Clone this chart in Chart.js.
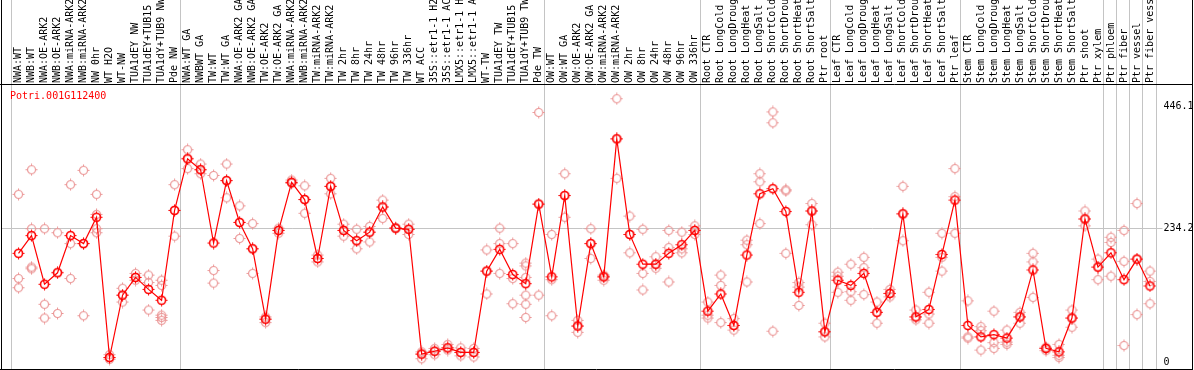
<!DOCTYPE html>
<html><head><meta charset="utf-8">
<script src="https://cdn.jsdelivr.net/npm/chart.js@4/dist/chart.umd.min.js"></script>
<style>html,body{margin:0;padding:0;background:#fff;}canvas{display:block;}</style>
</head><body>
<canvas id="c" width="1194" height="370"></canvas>
<script>
const chartTitle = 'Potri.001G112400';

const categories = [
  'NWA:WT','NWB:WT','NWA:OE-ARK2','NWB:OE-ARK2','NWA:miRNA-ARK2','NWB:miRNA-ARK2','NW 0hr','WT H2O','WT-NW','TUA1dEY NW','TUA1dEY+TUB15 NW','TUA1dY+TUB9 NW','Pde NW',
  'NWA:WT GA','NWBWT GA','TW:WT','TW:WT GA','NWA:OE-ARK2 GA','NWB:OE-ARK2 GA','TW:OE-ARK2','TW:OE-ARK2 GA','NWA:miRNA-ARK2 GA','NWB:miRNA-ARK2 GA','TW:miRNA-ARK2','TW:miRNA-ARK2 GA','TW 2hr','TW 8hr','TW 24hr','TW 48hr','TW 96hr','TW 336hr','WT ACC','35S::etr1-1 H2O','35S::etr1-1 ACC','LMX5::etr1-1 H2O','LMX5::etr1-1 ACC','WT-TW','TUA1dEY TW','TUA1dEY+TUB15 TW','TUA1dY+TUB9 TW','Pde TW',
  'OW:WT','OW:WT GA','OW:OE-ARK2','OW:OE-ARK2 GA','OW:miRNA-ARK2','OW:miRNA-ARK2 GA','OW 2hr','OW 8hr','OW 24hr','OW 48hr','OW 96hr','OW 336hr',
  'Root CTR','Root LongCold','Root LongDrought','Root LongHeat','Root LongSalt','Root ShortCold','Root ShortDrought','Root ShortHeat','Root ShortSalt','Ptr root',
  'Leaf CTR','Leaf LongCold','Leaf LongDrought','Leaf LongHeat','Leaf LongSalt','Leaf ShortCold','Leaf ShortDrought','Leaf ShortHeat','Leaf ShortSalt','Ptr leaf',
  'Stem CTR','Stem LongCold','Stem LongDrought','Stem LongHeat','Stem LongSalt','Stem ShortCold','Stem ShortDrought','Stem ShortHeat','Stem ShortSalt','Ptr shoot','Ptr xylem',
  'Ptr phloem','Ptr fiber','Ptr vessel','Ptr fiber vessel'
];

const groupSizes = [13, 28, 12, 10, 10, 11, 1, 1, 1, 1];

const meanValues = [
  190,221,136,156,221,207,253,8,117,148,127,108,265,
  355,336,208,317,244,198,75,230,314,284,181,307,230,212,227,271,234,232,14,19,25,17,17,159,197,153,137,276,
  149,291,63,207,149,390,223,171,171,190,205,230,
  89,119,64,187,294,303,263,122,264,53,
  143,134,155,87,120,259,79,92,188,283,
  64,44,48,42,79,161,24,18,77,250,166,
  191,144,180,133
];

const replicateValues = [
  [293,146,130],[336,233,166,163],[233,101,77],[226,85,157],[310,207,146],[335,207,81],[293,258,233,226],[13,8,5],[129,105,117],[155,143,148],[152,139,91],[143,134,82,78,73],[310,220,265],
  [371,338,356],[346,329,336],[326,160,138],[346,287,317],[273,216,244],[242,155,198],[79,69,75],[234,225,230],[318,312,314],[308,260,284],[187,175,181],[321,294,307],[241,220,230],[232,198,212],[237,210,227],[283,251,271],[234,233,235],[241,223,232],[6,18,14],[24,13,19],[31,21,25],[25,11,17],[24,9,17],[196,119,159],[234,207,155],[207,146,102],[173,168,148,117,101,78],[436,117,276],
  [223,144,81],[329,253,291],[73,52,63],[233,181,207],[152,143,149],[460,321,390],[255,191,223],[232,155,126],[184,164,171],[230,200,140],[227,198,191],[238,223,230],
  [105,82,77],[152,134,69],[76,56,64],[213,205,140],[329,315,242],[437,418,54],[301,299,190],[139,131,99],[277,240,264],[68,44,53],
  [157,150,122],[171,123,108],[183,165,118],[105,68,87],[127,114,120],[307,212,259],[91,74,79],[122,84,68],[225,183,159],[338,289,225],
  [107,44,42],[62,55,21],[89,34,24],[56,35,31],[87,68,79],[190,175,113],[26,20,24],[31,12,8],[91,61,77],[264,238,250],[180,144,166],
  [218,209,150],[230,176,29],[277,83,180],[159,141,102]
];

const yTickValues = [0, 234.2, 446.1];
const yMin = -12, yMax = 484;

const FONT = "'DejaVu Sans Mono', 'Liberation Mono', monospace";

function makeMarker(color, lw) {
  const c = document.createElement('canvas');
  c.width = 13; c.height = 13;
  const g = c.getContext('2d');
  g.strokeStyle = color;
  g.lineWidth = lw;
  g.beginPath(); g.arc(6.5, 6.5, 4, 0, Math.PI * 2); g.stroke();
  g.lineWidth = 1;
  g.beginPath();
  g.moveTo(6.5, 0.5); g.lineTo(6.5, 2.5);
  g.moveTo(6.5, 10.5); g.lineTo(6.5, 12.5);
  g.moveTo(0.5, 6.5); g.lineTo(2.5, 6.5);
  g.moveTo(10.5, 6.5); g.lineTo(12.5, 6.5);
  g.stroke();
  return c;
}
const meanMarker = makeMarker('#ff0000', 1.6);
const repMarker = makeMarker('#eb9696', 1.2);

const repPoints = [];
replicateValues.forEach((arr, i) => arr.forEach(v => repPoints.push({x: categories[i], y: v})));

const decorPlugin = {
  id: 'decor',
  beforeDatasetsDraw(chart) {
    const ctx = chart.ctx, xs = chart.scales.x, ys = chart.scales.y, a = chart.chartArea;
    ctx.save();
    ctx.strokeStyle = '#c4c4c4';
    ctx.lineWidth = 1;
    ctx.beginPath();
    let idx = 0;
    const bounds = [0];
    groupSizes.forEach(s => { idx += s; bounds.push(idx); });
    bounds.forEach(b => {
      const px = Math.round(xs.getPixelForValue(b - 0.5)) - 0.5;
      ctx.moveTo(px, 0); ctx.lineTo(px, a.bottom);
    });
    const gy = Math.round(ys.getPixelForValue(yTickValues[1])) + 0.5;
    ctx.moveTo(2, gy); ctx.lineTo(a.right + 6, gy);
    ctx.stroke();
    ctx.restore();
  },
  afterDraw(chart) {
    const ctx = chart.ctx, a = chart.chartArea;
    ctx.save();
    ctx.strokeStyle = '#000';
    ctx.lineWidth = 1;
    ctx.beginPath();
    ctx.moveTo(1.5, 0); ctx.lineTo(1.5, a.bottom + 0.5);
    ctx.moveTo(1192.5, 0); ctx.lineTo(1192.5, a.bottom + 0.5);
    ctx.moveTo(0, a.bottom + 0.5); ctx.lineTo(1193, a.bottom + 0.5);
    ctx.moveTo(0, a.top - 0.5); ctx.lineTo(1193, a.top - 0.5);
    ctx.stroke();
    ctx.fillStyle = '#ff0000';
    ctx.font = '10px ' + FONT;
    ctx.textBaseline = 'middle';
    ctx.textAlign = 'left';
    ctx.fillText(chartTitle, 10, a.top + 11);
    ctx.restore();
  }
};

new Chart(document.getElementById('c'), {
  type: 'line',
  data: {
    labels: categories,
    datasets: [
      {
        data: meanValues,
        borderColor: '#ff0000',
        borderWidth: 1.2,
        pointStyle: meanMarker,
        pointRadius: 5,
        tension: 0,
        fill: false
      },
      {
        data: repPoints,
        showLine: false,
        pointStyle: repMarker,
        pointRadius: 5,
        borderColor: '#eb9696'
      }
    ]
  },
  options: {
    responsive: false,
    animation: false,
    devicePixelRatio: 1,
    layout: { autoPadding: false, padding: { left: 12, right: 0, top: 0, bottom: 1 } },
    plugins: { legend: { display: false }, tooltip: { enabled: false }, title: { display: false } },
    scales: {
      x: {
        type: 'category',
        position: 'top',
        offset: true,
        grid: { display: false, drawTicks: false },
        border: { display: false },
        ticks: {
          autoSkip: false,
          minRotation: 90,
          maxRotation: 90,
          padding: 2,
          labelOffset: 12,
          color: '#000',
          font: { family: FONT, size: 10 }
        },
        afterFit(scale) { scale.height = 85; }
      },
      y: {
        position: 'right',
        min: yMin,
        max: yMax,
        grid: { display: false, drawTicks: false },
        border: { display: false },
        afterBuildTicks(scale) { scale.ticks = yTickValues.map(v => ({ value: v })); },
        ticks: {
          padding: 7,
          color: '#000',
          font: { family: FONT, size: 10 },
          callback: (v) => String(v)
        },
        afterFit(scale) {
          scale.width = 37.5;
          scale.paddingTop = 0;
          scale.paddingBottom = 0;
        }
      }
    }
  },
  plugins: [decorPlugin]
});
</script>
</body></html>
